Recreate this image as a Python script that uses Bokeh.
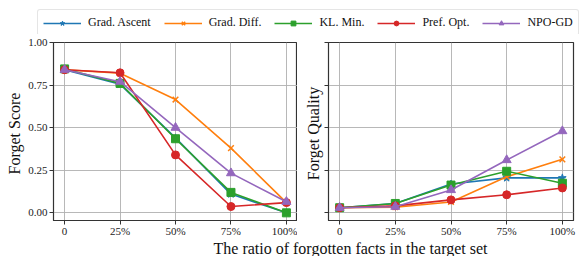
from bokeh.plotting import figure
from bokeh.layouts import column, row
from bokeh.models import Legend, LegendItem, FixedTicker, Label, Range1d, ColumnDataSource
from bokeh.embed import file_html
from bokeh.resources import INLINE

x_labels = ["0", "25%", "50%", "75%", "100%"]
methods = ["Grad. Ascent", "Grad. Diff.", "KL. Min.", "Pref. Opt.", "NPO-GD"]

score_grad_ascent = [0.84, 0.755, 0.44, 0.11, 0.0]
score_grad_diff = [0.84, 0.82, 0.665, 0.38, 0.06]
score_kl_min = [0.845, 0.76, 0.435, 0.12, 0.0]
score_pref_opt = [0.84, 0.822, 0.34, 0.037, 0.06]
score_npo_gd = [0.84, 0.77, 0.50, 0.233, 0.065]

quality_grad_ascent = [0.03, 0.055, 0.169, 0.205, 0.205]
quality_grad_diff = [0.03, 0.033, 0.064, 0.212, 0.314]
quality_kl_min = [0.03, 0.055, 0.163, 0.244, 0.174]
quality_pref_opt = [0.03, 0.041, 0.076, 0.106, 0.146]
quality_npo_gd = [0.03, 0.036, 0.134, 0.31, 0.48]

colors = ["#1f77b4", "#ff7f0e", "#2ca02c", "#d62728", "#9467bd"]
markers = ["star", "x", "square", "circle", "triangle"]
msizes = [8, 8, 8, 8, 9]

score_series = [score_grad_ascent, score_grad_diff, score_kl_min, score_pref_opt, score_npo_gd]
quality_series = [quality_grad_ascent, quality_grad_diff, quality_kl_min, quality_pref_opt, quality_npo_gd]

FONT = "Liberation Serif"
xs = list(range(len(x_labels)))
yticks = [0, 0.25, 0.5, 0.75, 1.0]


def make_panel(series, ylabel, fw, show_labels, label_standoff, left, right):
    p = figure(frame_width=fw, frame_height=178, output_backend="svg", toolbar_location=None,
               x_range=Range1d(-0.2, 4.2), y_range=Range1d(-0.045, 1.0),
               min_border_left=left, min_border_right=right, min_border_top=8, min_border_bottom=0)
    for s, c, m, ms in zip(series, colors, markers, msizes):
        src = ColumnDataSource(dict(x=xs, y=s))
        p.line("x", "y", source=src, color=c, line_width=1.6)
        p.scatter("x", "y", source=src, marker=m, size=ms, color=c, line_width=1.5 if m == "x" else 1)
    p.xaxis.ticker = FixedTicker(ticks=xs)
    p.xaxis.major_label_overrides = {i: l for i, l in enumerate(x_labels)}
    p.yaxis.ticker = FixedTicker(ticks=yticks)
    if show_labels:
        p.yaxis.major_label_overrides = {t: f"{t:.2f}" for t in yticks}
    else:
        p.yaxis.major_label_overrides = {t: "" for t in yticks}
    for ax in (p.xaxis[0], p.yaxis[0]):
        ax.major_label_text_font = FONT
        ax.major_label_text_font_size = "11px"
        ax.major_label_text_color = "#222222"
        ax.minor_tick_line_color = None
        ax.major_tick_out = 4
        ax.major_tick_in = 0
        ax.major_tick_line_color = "#333333"
        ax.axis_line_color = "#333333"
        ax.major_label_standoff = 2
    p.xaxis.major_label_standoff = 0
    if not show_labels:
        p.yaxis.major_label_standoff = 0
    p.yaxis.axis_label = ylabel
    p.yaxis.axis_label_text_font = FONT
    p.yaxis.axis_label_text_font_size = "16px"
    p.yaxis.axis_label_text_font_style = "normal"
    p.yaxis.axis_label_text_color = "#111111"
    p.yaxis.axis_label_standoff = label_standoff
    p.outline_line_color = "#333333"
    p.outline_line_width = 1.2
    p.grid.grid_line_color = "#b0b0b0"
    p.grid.grid_line_width = 0.9
    p.xgrid.ticker = FixedTicker(ticks=xs)
    p.ygrid.ticker = FixedTicker(ticks=yticks)
    return p


p1 = make_panel(score_series, "Forget  Score", 244, True, 2, 53, 0)
p2 = make_panel(quality_series, "Forget  Quality", 245, False, 3, 31, 6)

# Legend strip
lf = figure(width=579, height=34, output_backend="svg", toolbar_location=None,
            x_range=Range1d(0, 1), y_range=Range1d(0, 1),
            min_border_left=37, min_border_right=0, min_border_top=9, min_border_bottom=0)
lf.axis.visible = False
lf.grid.visible = False
lf.outline_line_color = None
items = []
for name, c, m, ms in zip(methods, colors, markers, msizes):
    src = ColumnDataSource(dict(x=[-5, -4], y=[-5, -5]))
    r1 = lf.line("x", "y", source=src, color=c, line_width=1.6)
    r2 = lf.scatter("x", "y", source=src, marker=m, size=ms - 1, color=c,
                    line_width=1.5 if m == "x" else 1)
    items.append(LegendItem(label=name, renderers=[r1, r2]))
legend = Legend(items=items, orientation="horizontal", location="top_left", margin=0,
                glyph_width=38, glyph_height=12, label_standoff=7, spacing=13,
                padding=5, label_text_font=FONT, label_text_font_size="12px",
                label_text_color="#111111", border_line_color="#cccccc",
                border_line_width=1, label_height=12)
try:
    legend.border_radius = 3
except Exception:
    pass
lf.add_layout(legend, "center")

# X label strip
xf = figure(width=579, height=17, output_backend="svg", toolbar_location=None,
            x_range=Range1d(0, 1), y_range=Range1d(0, 1),
            min_border_left=0, min_border_right=0, min_border_top=0, min_border_bottom=0)
xf.axis.visible = False
xf.grid.visible = False
xf.outline_line_color = None
xf.add_layout(Label(x=313, y=8, x_units="screen", y_units="screen",
                    text="The ratio of forgotten facts in the target set",
                    text_font=FONT, text_font_size="16px", text_align="center",
                    text_baseline="middle", text_color="#111111"))

layout = column(lf, row(p1, p2), xf)
open("out.html", "w").write(file_html(layout, INLINE))
